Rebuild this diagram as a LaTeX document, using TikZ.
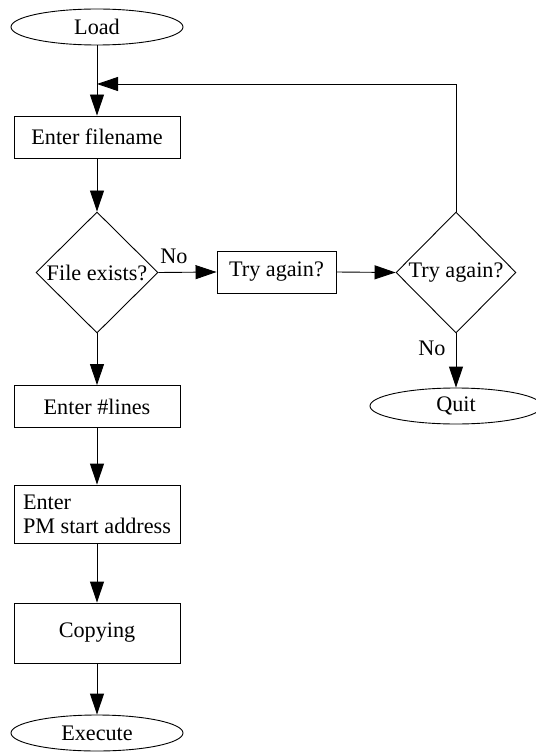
\documentclass[tikz,border=0pt]{standalone}
\usepackage{fontspec}
\setmainfont{Liberation Serif}
\usetikzlibrary{shapes.geometric,arrows.meta}
\begin{document}
\begin{tikzpicture}[x=1pt,y=-1pt,
  txt/.style={font=\fontsize{22.2}{24}\selectfont},
  base/.style={txt, line width=0.9pt, draw, inner sep=0pt},
  term/.style={base, ellipse, minimum width=172pt, minimum height=36pt},
  proc/.style={base, rectangle, minimum width=166pt, minimum height=42pt},
  dec/.style={base, diamond, minimum width=122pt, minimum height=121pt},
  lbl/.style={txt, inner sep=0pt},
  flow/.style={line width=0.9pt, -{Triangle[length=21pt,width=14pt]}}]
\useasboundingbox (0,0) rectangle (535,754);

% main column
\node[term] (load)   at (97,27)    {Load};
\node[proc] (fname)  at (97,137)   {Enter filename};
\node[dec]  (exists) at (97,272.5) {File exists?};
\node[proc] (lines)  at (97,406.5) {Enter \#lines};
\node[proc, minimum height=58pt, align=left] (pm) at (97,514) {Enter\\PM start address};
\node[proc, minimum height=60pt] (copy) at (97,633) {Copying};
\node[term] (exec)   at (97,733)   {Execute};

% retry branch
\node[proc, minimum width=119pt, minimum height=42pt] (try1) at (276.5,272) {Try again?};
\node[dec, minimum width=120pt] (try2) at (456,272.5) {Try again?};
\node[term] (quit) at (456,406) {Quit};

% edge labels
\node[lbl] (no1) at (174,256) {No};
\node[lbl] (no2) at (432,348) {No};

\coordinate (merge) at (97,84);

\draw[flow] (load) -- (fname);
\draw[flow] (fname) -- (exists);
\draw[flow] (exists) -- (lines);
\draw[flow] (lines) -- (pm);
\draw[flow] (pm) -- (copy);
\draw[flow] (copy) -- (exec);
\draw[flow] (exists.east) -- (try1.west);
\draw[flow] (try1.east) -- (try2.west);
\draw[flow] (try2.south) -- (quit);
\draw[flow] (try2.north) |- (merge);
\end{tikzpicture}
\end{document}
